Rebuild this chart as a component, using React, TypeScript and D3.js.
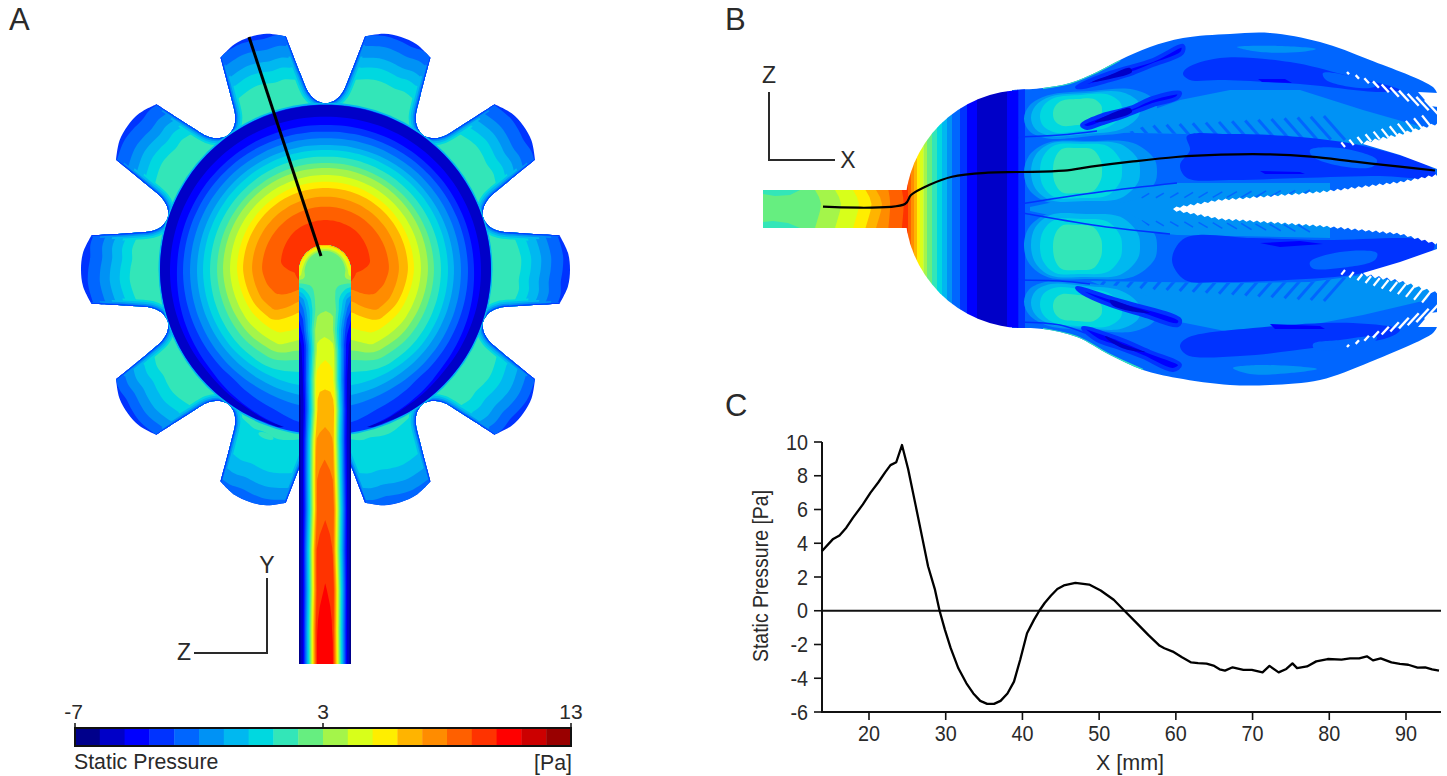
import React from "react";
import * as d3 from "d3";

type P = [number, number];

/* ---------- shared colour legend ---------- */
const bandColors = ["#00008b", "#0000c8", "#0000ff", "#0033ff", "#0066ff", "#0092f5", "#00b8f0", "#00d8e0", "#33e6b8", "#66ee80", "#a4f54a", "#d8ff1a", "#ffee00", "#ffb400", "#ff8c00", "#ff6000", "#ff3300", "#ff0000", "#cc0000", "#990000"];
const legendTicks = [-7, 3, 13];

/* ---------- panel C series ---------- */
const profileX = [13.85, 15.27, 16.15, 17.04, 17.9, 19.2, 20.2, 21.2, 22.1, 22.8, 23.55, 24.3, 25.1, 26.1, 27, 27.7, 28.6, 29.2, 29.9, 30.65, 31.65, 32.7, 33.6, 34.5, 35.4, 36.3, 37.15, 38.05, 38.9, 39.7, 40.6, 41.5, 42.2, 42.9, 43.7, 44.55, 45.4, 46.9, 48.7, 50.2, 51.9, 53.3, 54.9, 56.4, 57.9, 58.5, 59.6, 60.8, 62, 62.9, 64, 64.9, 65.7, 66.4, 67.4, 68.8, 69.9, 71.3, 72.2, 73.4, 74.4, 75.2, 75.8, 77.1, 78.3, 79.8, 81.6, 82.7, 83.9, 84.9, 85.7, 86.7, 88.1, 89.2, 90.3, 91.5, 92.5, 93.4, 94.3];
const profileP = [3.53, 4.23, 4.46, 4.92, 5.5, 6.3, 7, 7.6, 8.2, 8.63, 8.8, 9.82, 8.4, 6.2, 4.2, 2.64, 1.25, 0, -1.13, -2.22, -3.41, -4.3, -4.9, -5.34, -5.52, -5.52, -5.34, -4.9, -4.2, -2.92, -1.33, -0.54, 0, 0.46, 0.89, 1.29, 1.5, 1.65, 1.55, 1.2, 0.65, 0, -0.73, -1.43, -2.08, -2.22, -2.42, -2.76, -3.06, -3.1, -3.13, -3.25, -3.47, -3.55, -3.35, -3.5, -3.5, -3.65, -3.27, -3.65, -3.45, -3.12, -3.4, -3.3, -3, -2.86, -2.9, -2.82, -2.82, -2.7, -2.94, -2.82, -3.06, -3.15, -3.2, -3.37, -3.35, -3.47, -3.55];
const xTicksC = [20, 30, 40, 50, 60, 70, 80, 90];
const yTicksC = [-6, -4, -2, 0, 2, 4, 6, 8, 10];

/* ---------- panel A: disc contours, [angle from top, radius], mirrored left-right ---------- */
const discBands: [number, P[]][] = [
  [3, [[0, 165], [90, 165.5], [180, 165]]],
  [1, [[0, 164.5], [90, 165.5], [150, 165], [165, 164], [172, 150], [180, 140]]],
  [2, [[0, 152.8], [90, 155.5], [130, 156], [150, 159], [163, 163], [172, 150], [180, 140]]],
  [3, [[0, 144.5], [90, 148.5], [130, 152], [150, 158], [165, 163], [172, 165], [180, 165]]],
  [4, [[0, 137.8], [90, 142.5], [140, 143], [160, 149], [170, 155], [180, 156]]],
  [5, [[0, 131.2], [90, 135.5], [150, 136], [169, 138], [180, 138]]],
  [6, [[0, 124.5], [90, 128.5], [150, 128], [168, 128], [180, 126]]],
  [7, [[0, 119.5], [90, 122.5], [130, 122], [150, 120], [167, 118.6], [180, 115]]],
  [8, [[0, 112.8], [90, 115.5], [130, 115], [150, 113], [165, 106], [180, 102]]],
  [9, [[0, 106.5], [90, 108.5], [130, 107], [150, 104], [163, 94.5], [180, 90]]],
  [10, [[0, 101.5], [90, 102.5], [130, 100], [150, 96], [161.5, 85], [180, 78]]],
  [11, [[0, 94.5], [90, 95.5], [125, 93], [148, 88], [159, 75.5], [180, 68]]],
  [12, [[0, 87.8], [90, 88.5], [120, 85], [143, 79], [155, 64.5], [180, 55]]],
  [13, [[0, 81.5], [90, 82.5], [115, 79], [134, 73], [148, 51], [170, 38], [180, 38]]],
  [14, [[0, 72.8], [45, 73], [90, 73.5], [115, 70], [129, 64.7], [140, 42], [165, 30], [180, 30]]],
  [15, [[0, 62.8], [45, 63], [90, 63.5], [105, 60], [118, 54], [128, 33], [160, 28], [180, 28]]],
  [16, [[0, 49.5], [40, 49], [82, 45], [90, 38], [96, 31], [130, 26], [180, 26]]],
];
const toothAngles = [18, 54, 90, 126, 162, 198, 234, 270, 306, 342];
const flankOffsets: P[] = [[8.35, 236.5], [10.7, 197], [12.5, 177.7], [14.5, 170], [16, 167.5], [18, 166], [20, 167.5], [21.5, 170], [23.5, 177.7], [25.3, 197], [27.65, 236.5]];
const tipOffsets: P[] = [[-8.35, 236.5], [-4, 243], [0, 244.5], [4, 243], [8.35, 236.5]];
const toothBands: [number, number[]][] = [
  [3, [252, 252, 252, 252, 252]],
  [4, [237, 235, 234, 236, 242]],
  [5, [226, 222, 222, 226, 233]],
  [6, [214, 212, 212, 216, 221]],
  [7, [204, 202, 202, 204, 206]],
  [8, [192, 191, 192, 192, 172]],
];
const toothWave = [-6, -5, -3, 0, 3, 5, 4, 2, 3, 0, -3, -5];
const flankHalos: [number, number, number][] = [[7, 14, 205], [6, 10, 216], [5, 6, 228], [4, 3, 241], [3, 1.5, 260]];

/* ---------- panel A: inlet tube pressure along its length ---------- */
const tubeCentreY = [245, 290, 308, 320, 337, 360, 388, 392, 427, 450, 483, 520, 583, 620, 664];
const tubeCentreP = [9.1, 9.4, 9.9, 10.3, 11, 12, 12.9, 13.2, 14, 14.8, 15.5, 16, 17, 17.4, 17.6];
const tubeWallY = [245, 265, 275, 285, 300, 320, 345, 400, 664];
const tubeWallP = [13.5, 13, 11.5, 8.5, 5, 3, 1.5, 0.6, 0.4];
const tubeWaveY = [245, 290, 310, 330, 350, 380, 410, 440, 470, 510, 550, 590, 630, 664];
const tubeWaveV = [0, 0.6, -0.8, 1, -0.5, 0.3, -0.8, 0.5, 0.3, -0.5, 0.5, -0.3, 0.3, 0];
const domeU = [0, 0.72, 0.82, 0.92, 1];
const domeF = [1, 1, 0.62, 0.28, 0];
const lowU = [0, 0.2, 0.31, 0.58, 0.73, 0.85, 1];
const lowF = [1, 0.985, 0.97, 0.5, 0.26, 0.09, 0];
const tubeLevels = d3.range(1, 18);

/* ---------- panel B outlines ---------- */
const topEdge: P[] = [[1012, 90], [1043, 88], [1070, 83], [1097, 72], [1120, 60], [1150, 47], [1183, 38], [1230, 34], [1270, 33], [1320, 42], [1370, 60], [1433, 87], [1437, 93]];
const bottomEdge: P[] = [[1012, 328], [1043, 329], [1077, 337], [1110, 355], [1143, 370], [1177, 378], [1230, 385], [1270, 385], [1320, 380], [1370, 362], [1433, 333], [1437, 327]];
const inletBands: [number, number][] = [[9, 763], [10, 817], [11, 837], [12, 855], [13, 867.5], [14, 878], [15, 889], [16, 902.5]];
const inletWaveY = [190, 197, 204, 211, 218, 228];
const inletWaveX = [-2, 2, 4, 3, 1, -2];
const capBands: [number, number][] = [[16, 905], [15, 908], [14, 911], [13, 914], [12, 917], [11, 920], [10, 923.5], [9, 927], [8, 932], [7, 937], [6, 942], [5, 947], [4, 952], [3, 960], [2, 967], [1, 977], [2, 1007], [2, 1018]];
const inletPatches: P[][] = [
  [[763, 190], [800, 190], [790, 195], [775, 196], [763, 194]],
  [[763, 228], [800, 228], [788, 223], [773, 221], [763, 222]],
];
const streamline: P[] = [[823, 206.7], [905, 204], [911, 195], [929, 185], [952, 176.7], [988, 172.7], [1019, 172], [1064, 170.7], [1091, 166.7], [1131, 161.7], [1176, 157], [1221, 154.7], [1266, 154.3], [1311, 156.7], [1355, 161.7], [1400, 166.7], [1435, 170.5]];
const probeA: P[] = [[249, 37], [321, 256]];

const hatchZones: P[][] = [
  [[1090, 132], [1130, 118], [1180, 100], [1230, 90], [1300, 90], [1363, 110], [1433, 130], [1363, 145], [1300, 139], [1230, 135]],
  [[1030, 207], [1110, 190], [1177, 183], [1330, 183], [1330, 196], [1220, 204], [1173, 209], [1220, 214], [1330, 222], [1330, 238], [1177, 235], [1110, 228], [1030, 211]],
  [[1090, 281], [1230, 283], [1310, 282], [1363, 275], [1433, 288], [1427, 300], [1363, 315], [1300, 327], [1225, 331], [1180, 322], [1130, 297]],
];
const deepZones: P[][] = [
  [[1187, 68], [1220, 58], [1290, 62], [1345, 75], [1400, 90], [1380, 92], [1300, 84], [1220, 80], [1190, 80], [1183, 74]],
  [[1187, 136], [1230, 134], [1300, 137], [1363, 146], [1433, 169], [1435, 177], [1380, 176], [1300, 178], [1230, 180], [1187, 178], [1180, 165], [1190, 150]],
  [[1185, 238], [1253, 238], [1320, 240], [1433, 242], [1433, 250], [1363, 273], [1287, 280], [1220, 282], [1185, 280], [1172, 260]],
  [[1187, 338], [1253, 328], [1353, 323], [1400, 330], [1387, 338], [1313, 348], [1240, 356], [1187, 355], [1180, 346]],
];
const midPatches: P[][] = [
  [[1323, 73], [1350, 76], [1377, 85], [1370, 88], [1340, 85], [1325, 79]],
  [[1310, 150], [1340, 148], [1377, 160], [1372, 167], [1335, 165], [1312, 156]],
  [[1310, 262], [1340, 252], [1377, 253], [1375, 260], [1340, 268], [1312, 268]],
  [[1313, 344], [1340, 340], [1377, 337], [1372, 344], [1340, 349], [1315, 350]],
];
const lightStripes: P[][] = [
  [[1237, 47], [1280, 46], [1316, 49], [1300, 52], [1260, 52]],
  [[1233, 368], [1260, 365], [1317, 369], [1290, 373], [1250, 374]],
];
const thinDeep: P[][] = [
  [[1258, 79], [1285, 79], [1292, 83], [1262, 82]],
  [[1260, 171], [1300, 172], [1305, 174], [1265, 174]],
  [[1260, 243], [1300, 241], [1323, 244], [1280, 247]],
  [[1270, 324], [1320, 326], [1325, 329], [1275, 329]],
];
const streaksOuter: P[][] = [
  [[1082, 125], [1103, 115], [1130, 108], [1153, 98], [1180, 93], [1177, 98], [1153, 105], [1127, 115], [1103, 123], [1087, 128]],
  [[1077, 87], [1110, 73], [1153, 60], [1183, 46], [1182, 53], [1153, 65], [1133, 73], [1110, 80], [1083, 87]],
  [[1077, 288], [1117, 300], [1180, 320], [1178, 325], [1143, 315], [1110, 305], [1083, 293]],
  [[1083, 328], [1117, 338], [1150, 352], [1180, 365], [1173, 370], [1143, 357], [1120, 348], [1097, 340]],
];
const streaksCore: P[][] = [
  [[1095, 122], [1115, 112], [1130, 108], [1132, 112], [1110, 120]],
  [[1092, 82], [1110, 75], [1130, 68], [1132, 72], [1110, 79]],
  [[1110, 300], [1130, 306], [1150, 313], [1130, 311], [1112, 305]],
  [[1105, 336], [1125, 345], [1145, 352], [1125, 349], [1108, 340]],
];
const petalLines: P[][] = [
  [[1018, 137], [1060, 135], [1097, 131]],
  [[1020, 204], [1100, 192], [1177, 183]],
  [[1017, 212], [1100, 226], [1170, 234]],
  [[1018, 280], [1060, 281], [1090, 284]],
  [[1018, 322], [1060, 325], [1085, 333]],
];
// each bubble: band, left, right, top, bottom
const petalBubbles: { skew: number; levels: [number, number, number, number, number][] }[] = [
  { skew: -0.08, levels: [[5, 1024, 1157, 91, 136], [6, 1031, 1140, 93, 134], [7, 1040, 1122, 95, 131], [8, 1053, 1102, 99, 125]] },
  { skew: -0.01, levels: [[5, 1024, 1157, 141, 203], [6, 1031, 1140, 142, 201], [7, 1040, 1122, 144, 198], [8, 1053, 1102, 148, 193]] },
  { skew: 0.01, levels: [[5, 1024, 1157, 213, 279], [6, 1031, 1140, 214, 277], [7, 1040, 1122, 219, 274], [8, 1053, 1102, 225, 270]] },
  { skew: 0.08, levels: [[5, 1024, 1157, 284, 330], [6, 1031, 1140, 286, 328], [7, 1040, 1122, 289, 326], [8, 1053, 1102, 295, 321]] },
];
const rootDotsY = [95, 138, 209, 279, 322];
const wedgeUpper: P[] = [[1173, 209], [1220, 201], [1320, 193], [1400, 183], [1437, 176]];
const wedgeLower: P[] = [[1173, 209], [1220, 218], [1320, 225], [1400, 233], [1437, 243]];
const gapUpperSaw: P[] = [[1363, 144], [1395, 137], [1437, 125]];
const gapUpperSmooth: P[] = [[1437, 169], [1400, 155], [1363, 144]];
const gapLowerSaw: P[] = [[1363, 273], [1400, 280], [1437, 292]];
const gapLowerSmooth: P[] = [[1437, 249], [1400, 262], [1363, 273]];
const notchShapes: P[][] = [
  [[1418, 92], [1438, 93], [1438, 107], [1430, 106]],
  [[1418, 327], [1438, 327], [1438, 312], [1430, 313]],
];
const slashRows: { from: P; to: P; dir: P; len: [number, number]; color: "w" | number; width: number; step: number }[] = [
  { from: [1347, 72], to: [1425, 100], dir: [0.68, 0.74], len: [3, 20], color: "w", width: 2.4, step: 8 },
  { from: [1347, 347], to: [1425, 319], dir: [0.68, -0.74], len: [3, 20], color: "w", width: 2.4, step: 8 },
  { from: [1345, 147], to: [1432, 128], dir: [-0.62, -0.78], len: [6, 16], color: "w", width: 2.2, step: 8 },
  { from: [1345, 270], to: [1432, 290], dir: [-0.62, 0.78], len: [6, 16], color: "w", width: 2.2, step: 8 },
  { from: [1105, 133], to: [1345, 140], dir: [-0.66, -0.75], len: [6, 32], color: 4, width: 3, step: 14 },
  { from: [1105, 281], to: [1345, 277], dir: [-0.66, 0.75], len: [6, 32], color: 4, width: 3, step: 14 },
  { from: [1120, 194], to: [1310, 190], dir: [-0.85, 0.5], len: [8, 14], color: 4, width: 1.5, step: 14 },
  { from: [1120, 224], to: [1310, 232], dir: [-0.85, -0.5], len: [8, 14], color: 4, width: 1.5, step: 14 },
];

/* ---------- scales and layout ---------- */
const xC = d3.scaleLinear().domain([20, 90]).range([869, 1406]);
const yC = d3.scaleLinear().domain([-6, 10]).range([712, 442]);
const xLeg = d3.scaleBand<number>().domain(d3.range(20)).range([75, 571]).paddingInner(0);
const xLegVal = d3.scaleLinear().domain([-7, 13]).range([75, 571]);
const cA: P = [325.5, 269.5];
const ink = "#2a2a2a";
const sans = "'Liberation Sans', Arial, sans-serif";

/* ---------- shape helpers ---------- */
const rad = (a: number) => (a * Math.PI) / 180;
const polar = (a: number, r: number): P => [cA[0] + r * Math.sin(rad(a)), cA[1] - r * Math.cos(rad(a))];
const lineClosed = d3.line<P>().curve(d3.curveCatmullRomClosed.alpha(0.5));
const lineOpen = d3.line<P>().curve(d3.curveCatmullRom.alpha(0.5));
const poly = (pts: P[]) => (d3.line<P>()(pts) as string) + "Z";
const smooth = (pts: P[]) => lineClosed(pts) as string;

function discPath(table: P[]) {
  const r = d3.scaleLinear().domain(table.map((t) => t[0])).range(table.map((t) => t[1]));
  const pts: P[] = d3.range(0, 360, 4).map((a) => polar(a, r(a > 180 ? 360 - a : a)));
  return smooth(pts);
}

function gearPaths() {
  let outline = "";
  let flanks = "";
  toothAngles.forEach((a, i) => {
    const tip = lineOpen(tipOffsets.map(([o, r]) => polar(a + o, r))) as string;
    const flank = lineOpen(flankOffsets.map(([o, r]) => polar(a + o, r))) as string;
    outline += (i === 0 ? tip : tip.replace(/^M/, "L")) + flank.replace(/^M/, "L");
    flanks += flank;
  });
  return { outline: outline + "Z", flanks };
}

function toothRing(radii: number[], idx: number) {
  const pts: P[] = d3.range(0, 360, 3).map((a) => {
    const m = a > 180 ? 360 - a : a;
    const tooth = Math.min(4, Math.max(0, Math.floor(m / 36)));
    const local = Math.floor(((a % 36) + 36) % 36 / 3);
    return polar(a, radii[tooth] + (idx === 3 ? 0 : toothWave[local] * 0.8));
  });
  return smooth(pts);
}

function tubeContours() {
  const x0 = 297, y0 = 242, res = 2;
  const nx = 57 * res, ny = 424 * res;
  const cScale = d3.scaleLinear().domain(tubeCentreY).range(tubeCentreP).clamp(true);
  const wScale = d3.scaleLinear().domain(tubeWallY).range(tubeWallP).clamp(true);
  const waveS = d3.scaleLinear().domain(tubeWaveY).range(tubeWaveV).clamp(true);
  const fDome = d3.scaleLinear().domain(domeU).range(domeF).clamp(true);
  const fLow = d3.scaleLinear().domain(lowU).range(lowF).clamp(true);
  const blend = d3.scaleLinear().domain([271, 285, 345]).range([0, 0.8, 1]).clamp(true);
  const values = new Float64Array(nx * ny);
  for (let j = 0; j < ny; j++) {
    const y = y0 + (j + 0.5) / res;
    const c = cScale(y), w = wScale(y), b = blend(y), shift = waveS(y);
    for (let i = 0; i < nx; i++) {
      const x = x0 + (i + 0.5) / res;
      const dx = x - 325;
      const off = dx + shift * (1 - (Math.abs(dx) / 26) ** 2);
      const u = y < 271 ? Math.hypot(dx, y - 271) / 26 : Math.abs(off) / 26;
      const f = fDome(u) * (1 - b) + fLow(u) * b;
      values[j * nx + i] = w + (c - w) * f;
    }
  }
  const path = d3.geoPath();
  const contours = d3.contours().size([nx, ny]).thresholds(tubeLevels)(values as unknown as number[]);
  return { list: contours.map((c) => ({ level: c.value, d: path(c) as string })), transform: `translate(${x0},${y0}) scale(${1 / res})` };
}

function serrated(edge: P[], step: number, amp: number) {
  const s = d3.scaleLinear().domain(edge.map((p) => p[0])).range(edge.map((p) => p[1]));
  const [a, b] = [edge[0][0], edge[edge.length - 1][0]];
  const out: P[] = [];
  d3.range(a, b, step).forEach((x) => {
    out.push([x, s(x)]);
    out.push([x + step * 0.5, s(x + step * 0.5) + amp]);
  });
  out.push([b, s(b)]);
  return out;
}

function bubble(l: number, r: number, t: number, b: number, skew: number) {
  const w = r - l, h = b - t, xc = (l + r) / 2, yc = (t + b) / 2;
  const raw: P[] = [
    [l, yc], [l + 0.04 * w, t + 0.22 * h], [l + 0.18 * w, t + 0.02 * h], [xc, t],
    [r - 0.18 * w, t + 0.04 * h], [r - 0.02 * w, t + 0.3 * h], [r, yc], [r - 0.02 * w, b - 0.3 * h],
    [r - 0.18 * w, b - 0.04 * h], [xc, b], [l + 0.18 * w, b - 0.02 * h], [l + 0.04 * w, b - 0.22 * h],
  ];
  return smooth(raw.map(([x, y]) => [x, y + skew * (x - xc)] as P));
}

function slashes(row: (typeof slashRows)[number]) {
  const n = Math.floor(Math.abs(row.to[0] - row.from[0]) / row.step);
  return d3.range(n + 1).map((i) => {
    const t = n ? i / n : 0;
    const x = row.from[0] + (row.to[0] - row.from[0]) * t;
    const y = row.from[1] + (row.to[1] - row.from[1]) * t;
    const len = row.len[0] + (row.len[1] - row.len[0]) * t;
    return { x1: x, y1: y, x2: x + row.dir[0] * len, y2: y + row.dir[1] * len };
  });
}

const Label = (p: React.SVGProps<SVGTextElement>) => <text fontFamily={sans} fill={ink} {...p} />;

export default function App() {
  const gear = React.useMemo(gearPaths, []);
  const tube = React.useMemo(tubeContours, []);
  const profile = d3.line<number>().x((_, i) => xC(profileX[i])).y((d) => yC(d))(profileP) as string;
  const silhouette = (lineOpen(topEdge) as string) + "L" + bottomEdge[bottomEdge.length - 1].join(",") + (lineOpen([...bottomEdge].reverse()) as string).replace(/^M/, "L") + "Z";
  const wedge = poly([...serrated(wedgeUpper, 7, -2), ...[...serrated(wedgeLower, 7, 2)].reverse()]);
  const gapU = poly([...serrated(gapUpperSaw, 8, -3), ...gapUpperSmooth]);
  const gapL = poly([...serrated(gapLowerSaw, 8, 3), ...gapLowerSmooth]);
  const capRight = (i: number) => (i + 1 < capBands.length ? capBands[i + 1][1] : capBands[i][1]);

  return (
    <svg width={1447} height={776} viewBox="0 0 1447 776" style={{ position: "absolute", left: 0, top: 0, background: "#fff" }}>
      <defs>
        <clipPath id="gear"><path d={gear.outline} /></clipPath>
        {flankHalos.map(([idx, , lim]) => (
          <clipPath id={`lim${idx}`} key={idx}><circle cx={cA[0]} cy={cA[1]} r={lim} /></clipPath>
        ))}
        <clipPath id="tube"><path d={`M299,664V271A26,26 0 0 1 351,271V664Z`} /></clipPath>
        <clipPath id="cap"><circle cx={1024} cy={209} r={119} /></clipPath>
        <clipPath id="body"><path d={silhouette} /></clipPath>
        {hatchZones.map((z, i) => <clipPath id={`hz${i}`} key={i}><path d={poly(z)} /></clipPath>)}
      </defs>

      {/* Panel A: rotor teeth */}
      <g clipPath="url(#gear)">
        {toothBands.map(([idx, radii]) => <path key={idx} d={toothRing(radii, idx)} fill={bandColors[idx]} />)}
        {flankHalos.map(([idx, w]) => (
          <g key={idx} clipPath={`url(#lim${idx})`}>
            <path d={gear.flanks} fill="none" stroke={bandColors[idx]} strokeWidth={w} />
          </g>
        ))}
        <circle cx={cA[0]} cy={cA[1]} r={167} fill={bandColors[6]} />
      </g>
      <ellipse cx={266} cy={436} rx={8} ry={3} fill={bandColors[8]} transform="rotate(20 266 436)" />
      {discBands.map(([idx, table], i) => <path key={i} d={discPath(table)} fill={bandColors[idx]} />)}

      {/* Panel A: inlet tube */}
      <g clipPath="url(#tube)">
        <rect x={297} y={242} width={57} height={424} fill={bandColors[0]} />
        <g transform={tube.transform}>
          {tube.list.map((c) => <path key={c.level} d={c.d} fill={bandColors[c.level]} />)}
        </g>
      </g>
      <path d={d3.line()(probeA) as string} stroke="#000" strokeWidth={3} fill="none" />

      {/* Panel A: axis triad */}
      <path d="M267,578V653H194" fill="none" stroke={ink} strokeWidth={2} />
      <Label x={267} y={573} fontSize={23} textAnchor="middle">Y</Label>
      <Label x={184} y={660} fontSize={23} textAnchor="middle">Z</Label>

      {/* Colour legend */}
      {d3.range(20).map((i) => (
        <rect key={i} x={xLeg(i)} y={728} width={xLeg.bandwidth() + 0.4} height={18} fill={bandColors[i]} />
      ))}
      <rect x={75} y={728} width={496} height={18} fill="none" stroke="#111" strokeWidth={2} />
      {legendTicks.map((t) => (
        <g key={t}>
          <line x1={xLegVal(t)} x2={xLegVal(t)} y1={723} y2={728} stroke="#111" strokeWidth={1.5} />
          <Label x={xLegVal(t) - (t === -7 ? 1.5 : 0)} y={719} fontSize={21} textAnchor="middle">{t}</Label>
        </g>
      ))}
      <Label x={74} y={769} fontSize={21.3}>Static Pressure</Label>
      <Label x={572} y={770} fontSize={21.3} textAnchor="end">[Pa]</Label>

      {/* Panel B: cavity body */}
      <g clipPath="url(#body)">
        <rect x={1010} y={20} width={437} height={380} fill={bandColors[4]} />
        <rect x={1017} y={85} width={8} height={250} fill={bandColors[3]} />
        {hatchZones.map((z, i) => <path key={i} d={poly(z)} fill={bandColors[5]} />)}
        {slashRows.slice(4).map((r, ri) => (
          <g key={ri} clipPath={`url(#hz${ri < 2 ? ri * 2 : 1})`}>
            {slashes(r).map((s, i) => <line key={i} {...s} stroke={bandColors[r.color as number]} strokeWidth={r.width} />)}
          </g>
        ))}
        {deepZones.map((z, i) => <path key={i} d={smooth(z)} fill={bandColors[3]} />)}
        {midPatches.map((z, i) => <path key={i} d={smooth(z)} fill={bandColors[4]} />)}
        {lightStripes.map((z, i) => <path key={i} d={smooth(z)} fill={bandColors[5]} />)}
        {thinDeep.map((z, i) => <path key={i} d={poly(z)} fill={bandColors[2]} />)}
        {petalBubbles.map((p, i) => (
          <g key={i}>
            {p.levels.map(([idx, l, r, t, b]) => <path key={idx} d={bubble(l, r, t, b, p.skew)} fill={bandColors[idx]} />)}
          </g>
        ))}
        {streaksOuter.map((z, i) => <path key={i} d={smooth(z)} fill={bandColors[2]} stroke={bandColors[3]} strokeWidth={4} />)}
        {streaksCore.map((z, i) => <path key={i} d={smooth(z)} fill={bandColors[1]} />)}
        {petalLines.map((z, i) => <path key={i} d={lineOpen(z) as string} fill="none" stroke={bandColors[3]} strokeWidth={1.6} />)}
        <path d={lineOpen(topEdge.slice(1, 5)) as string} fill="none" stroke={bandColors[8]} strokeWidth={2} />
        <path d={lineOpen(bottomEdge.slice(1, 5)) as string} fill="none" stroke={bandColors[8]} strokeWidth={2} />
        {rootDotsY.map((y) => <ellipse key={y} cx={1016} cy={y} rx={2.2} ry={1.8} fill={bandColors[0]} />)}
      </g>
      <path d={wedge} fill="#fff" />
      <path d={gapU} fill="#fff" />
      <path d={gapL} fill="#fff" />
      {notchShapes.map((z, i) => <path key={i} d={poly(z)} fill="#fff" />)}
      {slashRows.slice(0, 4).map((r, ri) => (
        <g key={ri}>{slashes(r).map((s, i) => <line key={i} {...s} stroke="#fff" strokeWidth={r.width} />)}</g>
      ))}

      {/* Panel B: inlet and spherical cap */}
      {inletBands.map(([idx, x], i) => {
        const off = i === 0 ? inletWaveX.map(() => 0) : inletWaveX;
        const pts: P[] = [...inletWaveY.map((y, j) => [x + off[j] * (i > 5 ? 0.3 : 1), y] as P), [908, 228], [908, 190]];
        return <path key={i} d={poly(pts)} fill={bandColors[idx]} />;
      })}
      {inletPatches.map((z, i) => <path key={i} d={poly(z)} fill={bandColors[8]} />)}
      <g clipPath="url(#cap)">
        {capBands.slice(0, -1).map(([idx, x], i) => (
          <rect key={i} x={x} y={80} width={capRight(i) - x + 0.3} height={258} fill={bandColors[idx]} />
        ))}
      </g>
      <path d={lineOpen(streamline) as string} fill="none" stroke="#000" strokeWidth={2.2} />

      {/* Panel B: axis triad */}
      <path d="M769,92V160H835" fill="none" stroke={ink} strokeWidth={2} />
      <Label x={769} y={83} fontSize={23} textAnchor="middle">Z</Label>
      <Label x={848} y={168} fontSize={23} textAnchor="middle">X</Label>

      {/* Panel C */}
      <path d={`M${xC.range()[0] - 47},${yC(10)}V${yC(-6)}H1441`} fill="none" stroke="#111" strokeWidth={2} />
      <line x1={822} x2={1441} y1={yC(0)} y2={yC(0)} stroke="#111" strokeWidth={2} />
      {yTicksC.map((t) => (
        <g key={t}>
          <line x1={814} x2={822} y1={yC(t)} y2={yC(t)} stroke="#111" strokeWidth={1.6} />
          <Label transform={`translate(808,${yC(t) + 7.5}) scale(0.92,1)`} fontSize={21.5} textAnchor="end">{t}</Label>
        </g>
      ))}
      {xTicksC.map((t) => (
        <g key={t}>
          <line x1={xC(t)} x2={xC(t)} y1={712} y2={720} stroke="#111" strokeWidth={1.6} />
          <Label transform={`translate(${xC(t)},741) scale(0.92,1)`} fontSize={21.5} textAnchor="middle">{t}</Label>
        </g>
      ))}
      <path d={profile} fill="none" stroke="#000" strokeWidth={2.3} strokeLinejoin="round" />
      <Label x={1130} y={770} fontSize={21.5} textAnchor="middle">X [mm]</Label>
      <Label transform="translate(768,576) rotate(-90) scale(1,1.1)" fontSize={19.5} textAnchor="middle">Static Pressure [Pa]</Label>

      {/* Panel letters */}
      <Label x={9} y={30} fontSize={31}>A</Label>
      <Label x={725} y={30} fontSize={31}>B</Label>
      <Label x={725} y={416} fontSize={31}>C</Label>
    </svg>
  );
}
